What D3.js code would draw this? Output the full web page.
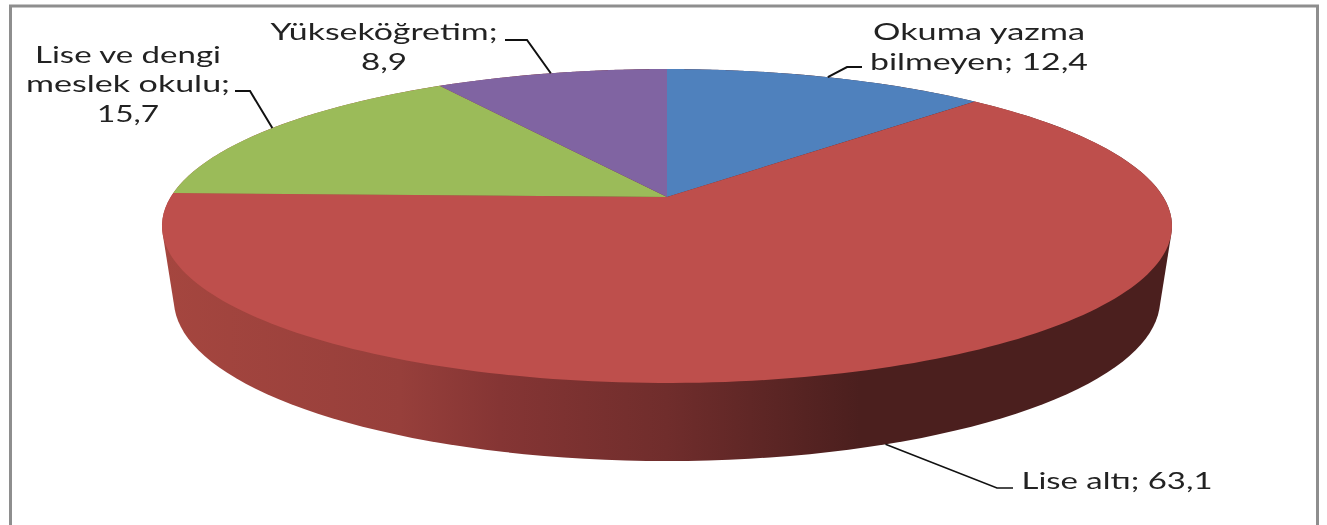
<!DOCTYPE html>
<html><head><meta charset="utf-8">
<style>html,body{margin:0;padding:0;background:#fff;overflow:hidden}svg{display:block}text{font-family:Lato,"Noto Sans",sans-serif;fill:#222}</style>
<script src="https://cdn.jsdelivr.net/npm/d3@7/dist/d3.min.js"></script>
</head><body><script>
const categories = ["Okuma yazma bilmeyen","Lise altı","Lise ve dengi meslek okulu","Yükseköğretim"];
const values = [12.4,63.1,15.7,8.9];
const colors = ["#4F81BD","#BE4F4C","#9BBB59","#8064A2"];
const labelLines = [["Okuma yazma","bilmeyen; 12,4"],["Lise altı; 63,1"],["Lise ve dengi","meslek okulu;","15,7"],["Yükseköğretim;","8,9"]];
const labelCenters = [[979,47],[1117,481],[128,84],[384,47]];
const labelWidths = [[212,218],[191],[186,204,62],[227,46]];
const leaderElbows = [[[847,67],[862,67]],[[997,488],[1013,488]],[[250,91],[235,91]],[[527,40],[505,40]]];
const wallStops = [[162,"#A5463F"],[400,"#973F3B"],[500,"#853534"],[667,"#702D2C"],[860,"#4B1F1E"],[1172,"#4B1F1E"]];

const W=1327,H=525,cx=667,k=-0.1847;
const topDisc={y0:197,A:496.3,B:151.6}, baseDisc={y0:270.3,A:484.6,B:155.5};
const project=(a,d)=>{const u=Math.sin(a),v=-Math.cos(a),q=1+k*v;return [cx+d.A*u/q,d.y0+d.B*v/q];};
const svg=d3.select("body").append("svg").attr("width",W).attr("height",H);
const defs=svg.append("defs");
const xScale=d3.scaleLinear().domain([162,1172]).range([0,1]);
const grad=defs.append("linearGradient").attr("id","wall").attr("gradientUnits","userSpaceOnUse").attr("x1",162).attr("x2",1172).attr("y1",0).attr("y2",0);
grad.selectAll("stop").data(wallStops).join("stop").attr("offset",d=>xScale(d[0])).attr("stop-color",d=>d[1]);
defs.append("filter").attr("id","soft").append("feGaussianBlur").attr("stdDeviation",0.55);

svg.append("path").attr("d",`M10.5,${H}V6H1317.5V${H}`).attr("fill","none").attr("stroke","#8E8E8E").attr("stroke-width",3);

const arcs=d3.pie().sort(null).value(d=>d)(values);
const line=d3.line();
const arcPts=(a0,a1,d)=>d3.range(0,181).map(i=>project(a0+(a1-a0)*i/180,d));
const hull=d3.polygonHull(arcPts(0,2*Math.PI,topDisc).concat(arcPts(0,2*Math.PI,baseDisc)));
svg.append("path").attr("d",line(hull)+"Z").attr("fill","url(#wall)");
svg.selectAll("path.slice").data(arcs).join("path").attr("class","slice")
  .attr("fill",(d,i)=>colors[i])
  .attr("d",d=>line([[cx,topDisc.y0],...arcPts(d.startAngle,d.endAngle,topDisc)])+"Z");

arcs.forEach((d,i)=>{
  const mid=(d.startAngle+d.endAngle)/2;
  const anchor=project(mid,i===1?baseDisc:topDisc);
  svg.append("path").attr("d",line([anchor,...leaderElbows[i]])).attr("fill","none").attr("stroke","#111").attr("stroke-width",i===1?1.6:2);
  const g=svg.append("g").attr("filter","url(#soft)");
  const lines=labelLines[i];
  lines.forEach((t,j)=>{
    g.append("text").attr("x",labelCenters[i][0]).attr("y",labelCenters[i][1]+j*29.5-(lines.length-1)*14.75+8)
      .attr("text-anchor","middle").attr("font-size",22.5)
      .attr("textLength",labelWidths[i][j]).attr("lengthAdjust","spacingAndGlyphs").text(t);
  });
});
</script></body></html>
